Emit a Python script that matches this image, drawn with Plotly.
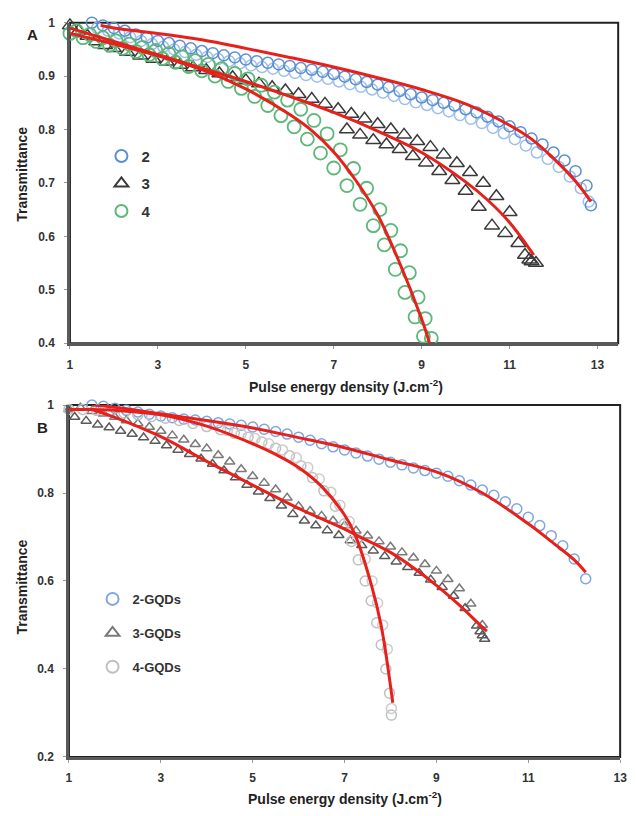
import plotly.graph_objects as go

# ---------------- Panel A data ----------------
a2_x = [1.5, 1.75, 2, 2.25, 2.5, 2.75, 3, 3.25, 3.5, 3.75, 4, 4.25, 4.5, 4.75, 5, 5.25, 5.5, 5.75, 6, 6.25,
        6.5, 6.75, 7, 7.25, 7.5, 7.75, 8, 8.25, 8.5, 8.75, 9, 9.25, 9.5, 9.75, 10, 10.25, 10.5, 10.75, 11,
        11.25, 11.5, 11.75, 12, 12.25, 12.5, 12.75, 12.85]
a2_y = [1.0, .995, .99, .985, .978, .972, .966, .962, .957, .952, .947, .943, .939, .935, .931, .928, .925,
        .922, .919, .915, .912, .908, .904, .899, .894, .889, .884, .879, .872, .866, .86, .855, .85, .845,
        .838, .832, .824, .815, .806, .795, .783, .772, .757, .742, .722, .695, .658]
a2b_x = [1.62, 1.87, 2.12, 2.37, 2.62, 2.87, 3.12, 3.37, 3.62, 3.87, 4.12, 4.37, 4.62, 4.87, 5.12, 5.37, 5.62,
         5.87, 6.12, 6.37, 6.62, 6.87, 7.12, 7.37, 7.62, 7.87, 8.12, 8.37, 8.62, 8.87, 9.12, 9.37, 9.62, 9.87,
         10.12, 10.37, 10.62, 10.87, 11.12, 11.37, 11.62, 11.87, 12.12, 12.37, 12.62, 12.8]
a2b_y = [.99, .985, .98, .973, .966, .96, .955, .95, .945, .94, .936, .932, .928, .924, .92, .917, .914, .91,
         .906, .902, .899, .895, .89, .885, .88, .875, .869, .863, .857, .851, .846, .84, .834, .827, .82, .812,
         .803, .793, .782, .77, .757, .745, .73, .712, .69, .665]
a2_fit_x = [1.7, 2, 3, 4, 5, 6, 7, 8, 9, 10, 11, 11.5, 12, 12.5, 12.85]
a2_fit_y = [.995, .99, .98, .968, .952, .935, .917, .897, .875, .848, .808, .782, .746, .703, .665]

a3_x = [1.0, 1.2, 1.4, 1.6, 1.8, 2.0, 2.3, 2.6, 2.9, 3.2, 3.5, 3.8, 4.1, 4.4, 4.7, 5.0, 5.3, 5.6, 5.9, 6.2,
        6.5, 6.8, 7.1, 7.4, 7.7, 8.0, 8.3, 8.6, 8.9, 9.2, 9.5, 9.8, 10.1, 10.4, 10.7, 11.0]
a3_y = [.995, .985, .975, .965, .958, .952, .945, .938, .932, .927, .921, .916, .911, .905, .898, .892, .886,
        .879, .873, .866, .857, .848, .838, .829, .82, .81, .80, .79, .778, .767, .753, .737, .72, .70, .675, .645]
a3b_x = [7.3, 7.6, 7.9, 8.2, 8.5, 8.8, 9.1, 9.4, 9.7, 10.0, 10.3, 10.6, 10.9, 11.2, 11.35, 11.45, 11.5, 11.6]
a3b_y = [.80, .79, .78, .772, .763, .75, .738, .722, .705, .685, .655, .62, .606, .587, .565, .556, .553, .55]
a3_fit_x = [1, 2, 3, 4, 5, 6, 7, 8, 9, 10, 10.5, 11, 11.55]
a3_fit_y = [.99, .965, .94, .915, .89, .862, .832, .797, .757, .702, .668, .626, .565]

a4_x = [1.0, 1.3, 1.6, 1.9, 2.2, 2.5, 2.8, 3.1, 3.4, 3.7, 4.0, 4.3, 4.6, 4.9, 5.2, 5.5, 5.8, 6.1, 6.4, 6.7,
        7.0, 7.3, 7.6, 7.9, 8.15, 8.4, 8.62, 8.85, 9.04]
a4_y = [.98, .972, .965, .958, .952, .946, .94, .933, .926, .918, .91, .9, .89, .877, .862, .845, .826, .805,
        .782, .756, .728, .695, .66, .62, .584, .538, .495, .449, .413]
a4b_x = [1.15, 1.45, 1.75, 2.05, 2.35, 2.65, 2.95, 3.25, 3.55, 3.85, 4.15, 4.45, 4.75, 5.05, 5.35, 5.65, 5.95,
         6.25, 6.55, 6.85, 7.15, 7.45, 7.75, 8.05, 8.3, 8.52, 8.72, 8.92, 9.08, 9.22]
a4b_y = [.985, .978, .972, .966, .96, .954, .948, .942, .936, .929, .922, .914, .905, .895, .883, .87, .855,
         .838, .817, .792, .762, .727, .69, .65, .611, .573, .532, .486, .446, .409]
a4_fit_x = [1, 2, 3, 4, 5, 6, 6.5, 7, 7.5, 8, 8.5, 9, 9.18]
a4_fit_y = [.98, .96, .938, .912, .876, .828, .798, .758, .705, .64, .55, .445, .40]

# ---------------- Panel B data ----------------
b2_x = [1.5, 1.75, 2, 2.25, 2.5, 2.75, 3, 3.25, 3.5, 3.75, 4, 4.25, 4.5, 4.75, 5, 5.25, 5.5, 5.75, 6, 6.25,
        6.5, 6.75, 7, 7.25, 7.5, 7.75, 8, 8.25, 8.5, 8.75, 9, 9.25, 9.5, 9.75, 10, 10.25, 10.5, 10.75, 11,
        11.25, 11.5, 11.75, 12, 12.25]
b2_y = [1.0, .997, .993, .988, .984, .979, .975, .971, .968, .966, .963, .96, .957, .954, .95, .945, .94, .934,
        .927, .92, .912, .905, .898, .891, .884, .877, .87, .864, .857, .851, .845, .838, .828, .818, .807,
        .795, .78, .764, .745, .726, .703, .68, .65, .605]
b2_fit_x = [1.5, 2, 3, 4, 5, 6, 7, 8, 9, 10, 11, 11.5, 12, 12.25]
b2_fit_y = [1.0, .995, .98, .965, .948, .926, .903, .875, .848, .80, .73, .69, .648, .62]

b3_x = [1.0, 1.25, 1.5, 1.75, 2, 2.25, 2.5, 2.75, 3, 3.25, 3.5, 3.75, 4, 4.25, 4.5, 4.75, 5, 5.25, 5.5, 5.75,
        6, 6.25, 6.5, 6.75, 7, 7.25, 7.5, 7.75, 8, 8.25, 8.5, 8.75, 9, 9.25, 9.5, 9.75, 10]
b3_y = [.99, .994, .986, .98, .973, .965, .958, .95, .941, .931, .921, .911, .901, .886, .871, .854, .838,
        .823, .808, .789, .77, .759, .748, .737, .726, .714, .703, .69, .678, .665, .653, .638, .623, .604,
        .583, .548, .50]
b3b_x = [1.125, 1.375, 1.625, 1.875, 2.125, 2.375, 2.625, 2.875, 3.125, 3.375, 3.625, 3.875, 4.125, 4.375,
         4.625, 4.875, 5.125, 5.375, 5.625, 5.875, 6.125, 6.375, 6.625, 6.875, 7.125, 7.375, 7.625, 7.875,
         8.125, 8.375, 8.625, 8.875, 9.125, 9.375, 9.625, 9.875, 9.95, 10.0, 10.05]
b3b_y = [.973, .964, .955, .949, .941, .934, .926, .918, .908, .898, .888, .878, .866, .851, .835, .818,
         .803, .788, .771, .752, .737, .726, .715, .704, .692, .681, .669, .656, .644, .631, .618, .603, .586,
         .566, .538, .498, .485, .476, .468]
b3_fit_x = [1.5, 2, 3, 4, 5, 6, 7, 7.24, 8, 8.5, 9, 9.5, 10, 10.1]
b3_fit_y = [.99, .972, .928, .872, .818, .765, .718, .705, .665, .63, .59, .545, .495, .486]

b4_x = [1.0, 1.3, 1.6, 1.9, 2.2, 2.5, 2.8, 3.1, 3.4, 3.7, 4.0, 4.3, 4.6, 4.9, 5.2, 5.5, 5.8, 6.05, 6.3, 6.55,
        6.8, 7.0, 7.15, 7.3, 7.45, 7.58, 7.7, 7.8, 7.9, 7.98, 8.02]
b4_y = [.99, .99, .988, .985, .982, .978, .974, .97, .965, .958, .951, .944, .936, .927, .916, .902, .885,
        .862, .835, .805, .77, .73, .69, .648, .60, .555, .505, .455, .40, .345, .295]
b4b_x = [4.45, 4.75, 5.05, 5.35, 5.65, 5.95, 6.2, 6.45, 6.7, 6.9, 7.1, 7.28, 7.45, 7.6, 7.72, 7.83, 7.93, 8.02]
b4b_y = [.942, .934, .924, .912, .898, .88, .858, .832, .802, .772, .735, .695, .65, .60, .55, .50, .445, .31]
b4_fit_x = [1, 1.5, 2, 3, 4, 5, 5.5, 6, 6.5, 7, 7.23, 7.58, 7.8, 8.05]
b4_fit_y = [.99, .99, .988, .978, .952, .912, .888, .858, .815, .75, .705, .593, .497, .323]

FONT = "Liberation Sans, Arial, sans-serif"
RED = "#e8201c"

fig = go.Figure()


def pts(x, y, xa, ya, color, symbol, size, name=None, legend=None, show=False, width=1.5):
    fig.add_trace(go.Scatter(
        x=x, y=y, xaxis=xa, yaxis=ya, mode="markers", name=name, showlegend=show,
        legend=legend, legendgroup=name, cliponaxis=False,
        marker=dict(symbol=symbol, size=size, color=color, line=dict(width=width))))


def fit(x, y, xa, ya):
    fig.add_trace(go.Scatter(x=x, y=y, xaxis=xa, yaxis=ya, mode="lines", showlegend=False,
                             line=dict(color=RED, width=3, shape="spline", smoothing=1.0)))


# Panel A
pts(a2b_x, a2b_y, "x", "y", "#9dbfe9", "circle-open", 11)
pts(a2_x, a2_y, "x", "y", "#5b8fd3", "circle-open", 11, "2", "legend", True)
pts(a3_x, a3_y, "x", "y", "#3a3a3a", "triangle-up-open", 13, "3", "legend", True)
pts(a3b_x, a3b_y, "x", "y", "#3a3a3a", "triangle-up-open", 13)
pts(a4_x, a4_y, "x", "y", "#5cb878", "circle-open", 13, "4", "legend", True, 1.8)
pts(a4b_x, a4b_y, "x", "y", "#5cb878", "circle-open", 13, None, None, False, 1.8)
fit(a2_fit_x, a2_fit_y, "x", "y")
fit(a3_fit_x, a3_fit_y, "x", "y")
fit(a4_fit_x, a4_fit_y, "x", "y")

# Panel B
pts(b2_x, b2_y, "x2", "y2", "#7ea6e0", "circle-open", 10, "2-GQDs", "legend2", True)
pts(b3_x, b3_y, "x2", "y2", "#7a7a7a", "triangle-up-open", 9, "3-GQDs", "legend2", True)
pts(b3b_x, b3b_y, "x2", "y2", "#5a5a5a", "triangle-up-open", 9)
pts(b4_x, b4_y, "x2", "y2", "#c0c0c0", "circle-open", 10, "4-GQDs", "legend2", True)
pts(b4b_x, b4b_y, "x2", "y2", "#cccccc", "circle-open", 10)
fit(b2_fit_x, b2_fit_y, "x2", "y2")
fit(b3_fit_x, b3_fit_y, "x2", "y2")
fit(b4_fit_x, b4_fit_y, "x2", "y2")

W, H = 636, 816
tickfont = dict(family=FONT, size=12, color="#333", weight="bold")
ax_common = dict(showgrid=False, zeroline=False, showline=True, linecolor="#5a5a5a", linewidth=3,
                 ticks="outside", ticklen=3, tickcolor="#999", tickwidth=1, tickfont=tickfont)
title_font = dict(family=FONT, size=14, color="#222", weight="bold")
PAD = "\u00a0\u00a0"


def note(text, px, py, size=14, angle=0):
    return dict(text=text, x=px / W, y=1 - py / H, xref="paper", yref="paper", showarrow=False,
                xanchor="center", yanchor="middle", textangle=angle,
                font=dict(family=FONT, size=size, color="#222", weight="bold"))


fig.update_layout(
    width=W, height=H, margin=dict(l=0, r=0, t=0, b=0),
    paper_bgcolor="white", plot_bgcolor="white",
    xaxis=dict(domain=[68 / W, 625 / W], range=[1, 13.47], tick0=1, dtick=2, anchor="y",
               ticklabelstandoff=5, **ax_common),
    yaxis=dict(domain=[1 - 342 / H, 1 - 16 / H], range=[0.4, 1.0], dtick=0.1, anchor="x",
               ticksuffix=PAD, **ax_common),
    xaxis2=dict(domain=[67 / W, 627 / W], range=[1, 13], tick0=1, dtick=2, anchor="y2",
                ticklabelstandoff=5, **ax_common),
    yaxis2=dict(domain=[1 - 763 / H, 1 - 405 / H], range=[0.2, 1.0], dtick=0.2, anchor="x2",
                ticksuffix=PAD, **ax_common),
    legend=dict(x=100 / W, y=1 - 135 / H, xanchor="left", yanchor="top", bgcolor="rgba(0,0,0,0)",
                font=dict(family=FONT, size=15, color="#333", weight="bold"), itemwidth=30,
                tracegroupgap=5, itemsizing="constant"),
    legend2=dict(x=91 / W, y=1 - 587 / H, xanchor="left", yanchor="top", bgcolor="rgba(0,0,0,0)",
                 font=dict(family=FONT, size=13, color="#333", weight="bold"), itemwidth=30,
                 tracegroupgap=14, itemsizing="constant"),
    shapes=[
        dict(type="rect", xref="x domain", yref="y domain", x0=0, x1=1, y0=0, y1=1,
             line=dict(color="#222", width=2), layer="below"),
        dict(type="rect", xref="x2 domain", yref="y2 domain", x0=0, x1=1, y0=0, y1=1,
             line=dict(color="#222", width=2), layer="below"),
    ],
    annotations=[
        note("A", 30, 28, 15),
        note("B", 40, 428, 15),
        note("Transmittance", 19, 170, 14, -90),
        note("Transmittance", 19, 590, 14, -90),
        note("Pulse energy density (J.cm<sup>-2</sup>)", 348, 386),
        note("Pulse energy density (J.cm<sup>-2</sup>)", 347, 805),
    ],
)

fig.write_html("out.html", config={"displayModeBar": False},
               post_script="document.body.style.margin='0';document.body.style.overflow='hidden';")
